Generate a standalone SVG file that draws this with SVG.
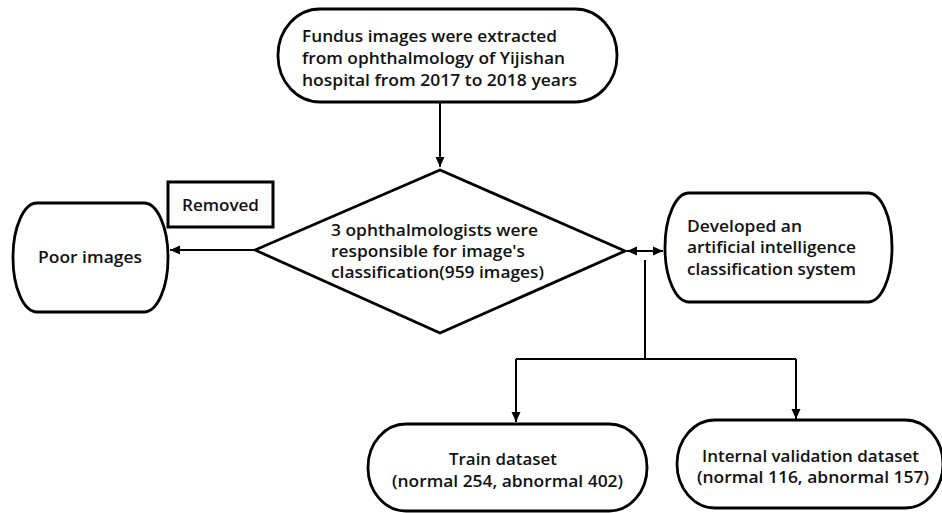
<svg xmlns="http://www.w3.org/2000/svg" width="942" height="513" viewBox="0 0 942 513">
<style>
.n{fill:#fff;stroke:#000;stroke-width:2.8}
.t{font-family:"Open Sans","Noto Sans",sans-serif;font-weight:600;font-size:16px;fill:#111}
.c{fill:none;stroke:#000;stroke-width:2}
</style>
<defs>
<marker id="ah" viewBox="0 0 10 10" refX="10" refY="5" markerWidth="10" markerHeight="10" markerUnits="userSpaceOnUse" orient="auto-start-reverse">
<path d="M0,0.5 L10,5 L0,9.5 Z" fill="#000"/>
</marker>
</defs>
<rect width="942" height="513" fill="#fff"/>
<g id="connectors">
<line class="c" x1="440" y1="102" x2="440" y2="167" marker-end="url(#ah)"/>
<line class="c" x1="255" y1="250" x2="170" y2="250" marker-end="url(#ah)"/>
<line class="c" x1="627" y1="251" x2="663" y2="251" marker-start="url(#ah)" marker-end="url(#ah)"/>
<polyline class="c" points="645,260 645,359"/>
<polyline class="c" points="516,359 796,359"/>
<line class="c" x1="516" y1="359" x2="516" y2="422" marker-end="url(#ah)"/>
<line class="c" x1="796" y1="359" x2="796" y2="419" marker-end="url(#ah)"/>
</g>
<g id="fundus">
<rect class="n" x="278" y="9" width="339" height="93" rx="42" ry="46"/>
<text class="t" x="302" y="42" textLength="255" lengthAdjust="spacingAndGlyphs">Fundus images were extracted</text>
<text class="t" x="302" y="64" textLength="263" lengthAdjust="spacingAndGlyphs">from ophthalmology of Yijishan</text>
<text class="t" x="302" y="86" textLength="275" lengthAdjust="spacingAndGlyphs">hospital from 2017 to 2018 years</text>
</g>
<g id="decision">
<polygon class="n" points="440,170 625,251 440,333 255,250"/>
<text class="t" x="331" y="236" textLength="207" lengthAdjust="spacingAndGlyphs">3 ophthalmologists were</text>
<text class="t" x="331" y="257" textLength="194" lengthAdjust="spacingAndGlyphs">responsible for image's</text>
<text class="t" x="331" y="278" textLength="213" lengthAdjust="spacingAndGlyphs">classification(959 images)</text>
</g>
<g id="removed">
<rect x="168" y="182" width="105" height="45" fill="#fff" stroke="#000" stroke-width="3"/>
<text class="t" x="182" y="211" textLength="77" lengthAdjust="spacingAndGlyphs">Removed</text>
</g>
<g id="poor">
<rect class="n" x="13" y="203" width="155" height="109" rx="24" ry="54"/>
<text class="t" x="38" y="263" textLength="104" lengthAdjust="spacingAndGlyphs">Poor images</text>
</g>
<g id="ai">
<rect class="n" x="665" y="193" width="227" height="109" rx="24" ry="54"/>
<text class="t" x="687" y="232" textLength="115" lengthAdjust="spacingAndGlyphs">Developed an</text>
<text class="t" x="687" y="253" textLength="169" lengthAdjust="spacingAndGlyphs">artificial intelligence</text>
<text class="t" x="687" y="275" textLength="169" lengthAdjust="spacingAndGlyphs">classification system</text>
</g>
<g id="train">
<rect class="n" x="368" y="424" width="279" height="87" rx="38" ry="43"/>
<text class="t" x="449" y="465" textLength="108" lengthAdjust="spacingAndGlyphs">Train dataset</text>
<text class="t" x="392" y="487" textLength="231" lengthAdjust="spacingAndGlyphs">(normal 254, abnormal 402)</text>
</g>
<g id="internal">
<rect class="n" x="677" y="420" width="266" height="88" rx="38" ry="44"/>
<text class="t" x="702" y="462" textLength="217" lengthAdjust="spacingAndGlyphs">Internal validation dataset</text>
<text class="t" x="697" y="483" textLength="232" lengthAdjust="spacingAndGlyphs">(normal 116, abnormal 157)</text>
</g>
</svg>
